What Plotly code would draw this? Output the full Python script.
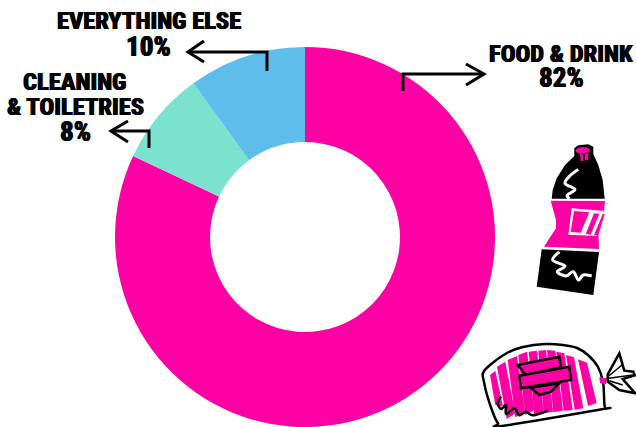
import plotly.graph_objects as go

# Share of spending by category
categories = ["Food & drink", "Cleaning & toiletries", "Everything else"]
shares = [82, 8, 10]
slice_colors = ["#FF00A5", "#7BE2CE", "#5FBDEB"]
callout_lines = [["FOOD & DRINK"], ["CLEANING", "& TOILETRIES"], ["EVERYTHING ELSE"]]
callout_x = [561, 75, 148.5]
callout_y = [[53, 78], [81, 106, 132], [20, 47]]

INK = "#000000"
PINK = "#FF00A5"
FONT = "Roboto Condensed"
NAME_SIZE = 24.5
SHARE_SIZE = 27


def outline(points, ox, oy, closed=True, smooth=False):
    """Build an SVG path from points drawn on a 3x grid anchored at (ox, oy)."""
    pts = [(ox + x / 3, oy + y / 3) for x, y in points]
    d = f"M{pts[0][0]:.1f},{pts[0][1]:.1f}"
    if smooth:
        n = len(pts)
        for i in range(n if closed else n - 1):
            if closed:
                p0, p1, p2, p3 = pts[i - 1], pts[i], pts[(i + 1) % n], pts[(i + 2) % n]
            else:
                p0, p1, p2, p3 = pts[max(i - 1, 0)], pts[i], pts[i + 1], pts[min(i + 2, n - 1)]
            c1 = (p1[0] + (p2[0] - p0[0]) / 6, p1[1] + (p2[1] - p0[1]) / 6)
            c2 = (p2[0] - (p3[0] - p1[0]) / 6, p2[1] - (p3[1] - p1[1]) / 6)
            d += f" C{c1[0]:.1f},{c1[1]:.1f} {c2[0]:.1f},{c2[1]:.1f} {p2[0]:.1f},{p2[1]:.1f}"
    else:
        d += "".join(f" L{x:.1f},{y:.1f}" for x, y in pts[1:])
    return d + (" Z" if closed else "")


def shape(path, fill="rgba(0,0,0,0)", line=None, width=0):
    return dict(type="path", path=path, xref="x", yref="y", layer="above",
                fillcolor=fill, line=dict(color=line or "rgba(0,0,0,0)", width=width))


shapes = []

# Callout arrows: a tick on the slice, a long run, and an open head
arrows = [
    [(403, 91), (403, 74), (483, 74)],
    [(149, 148), (149, 131), (111, 131)],
    [(267, 71), (267, 52), (188, 52)],
]
heads = [
    [(466, 64), (484, 74), (466, 85)],
    [(128, 121), (111, 131), (128, 142)],
    [(204, 41), (188, 52), (204, 62)],
]
for run, head in zip(arrows, heads):
    for seg in (run, head):
        shapes.append(shape(outline([(x * 3, y * 3) for x, y in seg], 0, 0, closed=False),
                            line=INK, width=3))

# Bottle
BX, BY = 530, 130
shapes += [
    shape(outline([(133, 55), (145, 46), (175, 43), (190, 50), (190, 72), (205, 105), (218, 150),
                   (224, 206), (65, 206), (68, 180), (80, 145), (105, 105), (133, 78)], BX, BY), fill=INK),
    shape(outline([(62, 212), (225, 213), (222, 245), (205, 300), (207, 357), (42, 350), (60, 322),
                   (78, 295), (78, 270)], BX, BY), fill=PINK),
    shape(outline([(35, 358), (207, 366), (190, 495), (20, 470)], BX, BY), fill=INK),
    shape(outline([(138, 58), (158, 51), (178, 56), (176, 66), (155, 70), (140, 67)], BX, BY, smooth=True), fill=PINK),
    shape(outline([(150, 72), (158, 72), (160, 93), (152, 93)], BX, BY), fill=PINK),
    shape(outline([(165, 72), (176, 70), (174, 91), (165, 91)], BX, BY), fill=PINK),
    shape(outline([(125, 235), (225, 243), (222, 252), (200, 318), (115, 314)], BX, BY), fill="#FFFFFF"),
    shape(outline([(132, 243), (178, 247), (152, 308), (122, 306)], BX, BY), fill=PINK),
    shape(outline([(192, 250), (208, 251), (182, 314), (167, 312)], BX, BY), fill=PINK),
    shape(outline([(218, 252), (224, 252), (205, 316), (192, 315)], BX, BY), fill=PINK),
    shape(outline([(145, 118), (122, 135), (105, 160), (135, 178), (112, 195), (118, 206)], BX, BY,
                  closed=False, smooth=True), line="#FFFFFF", width=3),
    shape(outline([(88, 365), (68, 390), (105, 408), (82, 425), (108, 438), (130, 425), (145, 450),
                   (160, 435), (185, 437)], BX, BY, closed=False, smooth=True), line="#FFFFFF", width=3),
]

# Bread loaf in its bag
LX, LY = 476, 340
bag = [(21, 99), (42, 75), (93, 39), (141, 21), (207, 12), (261, 15), (303, 24), (336, 45), (366, 81),
       (381, 126), (385, 190), (387, 205), (378, 208), (78, 258), (66, 250), (51, 219), (33, 165), (24, 126)]
stripes = [
    [(42, 105), (58, 92), (81, 200), (58, 195)],
    [(63, 80), (88, 65), (118, 220), (92, 237)],
    [(95, 60), (123, 48), (148, 218), (118, 232)],
    [(127, 45), (153, 35), (175, 210), (148, 225)],
    [(158, 35), (183, 32), (203, 220), (175, 222)],
    [(187, 32), (210, 30), (231, 215), (203, 220)],
    [(213, 30), (238, 32), (261, 212), (232, 216)],
    [(241, 35), (265, 40), (290, 210), (263, 212)],
    [(270, 45), (294, 52), (322, 205), (296, 209)],
    [(306, 58), (333, 68), (362, 190), (336, 197)],
]
shapes.append(shape(outline(bag, LX, LY, smooth=True), fill="#FFFFFF", line=INK, width=2.5))
shapes += [shape(outline(s, LX, LY), fill=PINK) for s in stripes]
shapes += [
    shape(outline([(125, 75), (250, 50), (255, 82), (150, 105)], LX, LY), fill=PINK, line=INK, width=2.5),
    shape(outline([(165, 143), (250, 130), (225, 155), (190, 165)], LX, LY), fill=PINK, line=INK, width=2.5),
    shape(outline([(130, 107), (280, 80), (285, 120), (135, 145)], LX, LY), fill=PINK, line=INK, width=2.5),
    shape(outline([(370, 112), (392, 115), (390, 132), (372, 130)], LX, LY), fill=PINK),
    # Twisted end of the bag with its fold lines
    shape(outline([(395, 103), (430, 40), (445, 92), (472, 95), (476, 106), (440, 117), (478, 160),
                   (430, 150), (395, 125)], LX, LY), fill="#FFFFFF", line=INK, width=2.5),
    shape(outline([(398, 108), (438, 75)], LX, LY, closed=False), line=INK, width=1.5),
    shape(outline([(398, 115), (470, 105)], LX, LY, closed=False), line=INK, width=1.5),
    shape(outline([(400, 122), (440, 135)], LX, LY, closed=False), line=INK, width=1.5),
    shape(outline([(75, 170), (65, 188), (75, 207), (90, 195), (90, 222), (115, 205), (130, 226),
                   (150, 215), (170, 226), (215, 212)], LX, LY, closed=False, smooth=True), line=INK, width=2.5),
]

# Bold labels, one annotation per line so the leading stays tight
annotations = []
for lines, share, cx, ys in zip(callout_lines, shares, callout_x, callout_y):
    sizes = [NAME_SIZE] * len(lines) + [SHARE_SIZE]
    for text, cy, size in zip(lines + [f"{share}%"], ys, sizes):
        annotations.append(dict(
            x=cx, y=cy, xref="x", yref="y", text=text, showarrow=False, align="center",
            xanchor="center", yanchor="middle",
            font=dict(family=FONT, size=size, weight=800, color=INK,
                      shadow="0.5px 0 0 #000, -0.5px 0 0 #000"),
        ))

fig = go.Figure(go.Pie(
    labels=categories, values=shares, hole=0.5, sort=False, direction="clockwise", rotation=0,
    marker=dict(colors=slice_colors, line=dict(width=0)), textinfo="none", hoverinfo="skip",
    domain=dict(x=[115 / 636, 495 / 636], y=[0, 380 / 427]), showlegend=False,
))
fig.update_layout(
    width=636, height=427, margin=dict(l=0, r=0, t=0, b=0),
    paper_bgcolor="#FFFFFF", plot_bgcolor="rgba(0,0,0,0)",
    xaxis=dict(range=[0, 636], visible=False, fixedrange=True),
    yaxis=dict(range=[427, 0], visible=False, fixedrange=True),
    shapes=shapes, annotations=annotations,
)
fig.write_html("out.html", config=dict(displayModeBar=False))
